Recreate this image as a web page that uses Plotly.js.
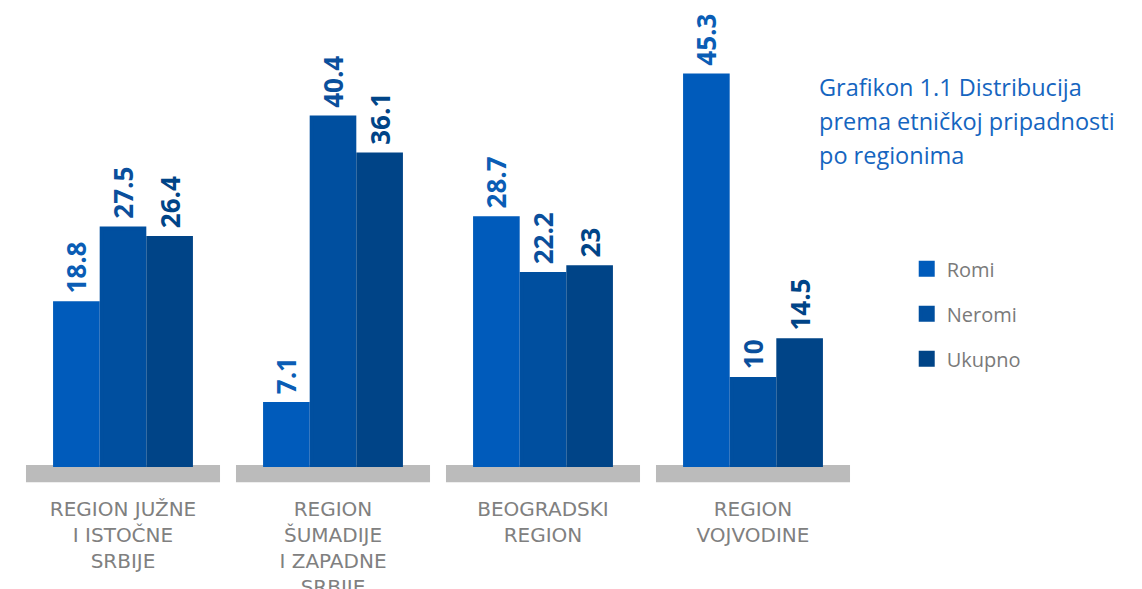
<!DOCTYPE html>
<html>
<head>
<meta charset="utf-8">
<script src="https://cdn.plot.ly/plotly-3.0.1.min.js"></script>
<style>
html,body{margin:0;padding:0;background:#fff;}
#chart{width:1142px;height:589px;}
</style>
</head>
<body>
<div id="chart"></div>
<script>
// ---- data ----
const categories = ["REGION JUŽNE<br>I ISTOČNE<br>SRBIJE", "REGION<br>ŠUMADIJE<br>I ZAPADNE<br>SRBIJE", "BEOGRADSKI<br>REGION", "REGION<br>VOJVODINE"];
const seriesNames = ["Romi", "Neromi", "Ukupno"];
const romi = [18.8, 7.1, 28.7, 45.3];
const neromi = [27.5, 40.4, 22.2, 10];
const ukupno = [26.4, 36.1, 23, 14.5];
const titleLines = ["Grafikon 1.1 Distribucija", "prema etničkoj pripadnosti", "po regionima"];

// ---- styling ----
const colors = ["#005bbb", "#004f9f", "#004487"];
const labelColors = ["#0a5db5", "#0a4f9c", "#004487"];
const seriesValues = [romi, neromi, ukupno];
const slot = 0.222;      // spacing of bars within a group (axis units)
const lineW = 4;         // outline width (px), same colour as fill
const barW = slot - lineW / 210;
const baseBand = 2;      // grey base band height in axis units

const traces = [];
traces.push({
  type: "bar",
  x: categories,
  y: categories.map(() => baseBand),
  base: -baseBand,
  width: 0.924,
  offset: -0.462,
  marker: {color: "#bbbbbb"},
  showlegend: false,
  hoverinfo: "skip"
});
seriesValues.forEach((vals, i) => {
  traces.push({
    type: "bar",
    name: seriesNames[i],
    legendgroup: seriesNames[i],
    x: categories,
    y: vals,
    width: barW,
    offset: -1.5 * slot + i * slot + (slot - barW) / 2,
    marker: {color: colors[i], line: {color: colors[i], width: lineW}},
    text: vals.map(v => "\u00a0" + String(v)),
    textposition: "outside",
    textangle: -90,
    constraintext: "none",
    cliponaxis: false,
    textfont: {family: "Open Sans, Roboto, sans-serif", size: 26, color: labelColors[i], weight: "bold"},
    hoverinfo: "x+y"
  });
});

const annotations = titleLines.map((t, k) => ({
  text: t,
  xref: "paper", yref: "paper",
  x: 0.951, y: 0.968 - k * 0.0793,
  xanchor: "left", yanchor: "top",
  showarrow: false,
  align: "left",
  font: {family: "Open Sans, Lato, sans-serif", size: 23.5, color: "#1565c0"}
}));

const layout = {
  width: 1142, height: 589,
  margin: {l: 18, r: 284, t: 55, b: 105},
  paper_bgcolor: "#ffffff",
  plot_bgcolor: "#ffffff",
  barmode: "overlay",
  showlegend: true,
  legend: {
    x: 1.058, y: 0.547, xanchor: "left", yanchor: "top",
    font: {family: "Open Sans, Lato, sans-serif", size: 20, color: "#7a7a7a"},
    tracegroupgap: 16,
    bgcolor: "rgba(0,0,0,0)"
  },
  xaxis: {
    showgrid: false, zeroline: false, showline: false, ticks: "",
    tickfont: {family: "DejaVu Sans, Liberation Sans, sans-serif", size: 20, color: "#808080"},
    ticklabelstandoff: 11,
    fixedrange: true
  },
  yaxis: {
    visible: false,
    range: [-2.21, 47.67],
    fixedrange: true
  },
  annotations: annotations
};

Plotly.newPlot("chart", traces, layout, {displayModeBar: false, staticPlot: true});
</script>
</body>
</html>
